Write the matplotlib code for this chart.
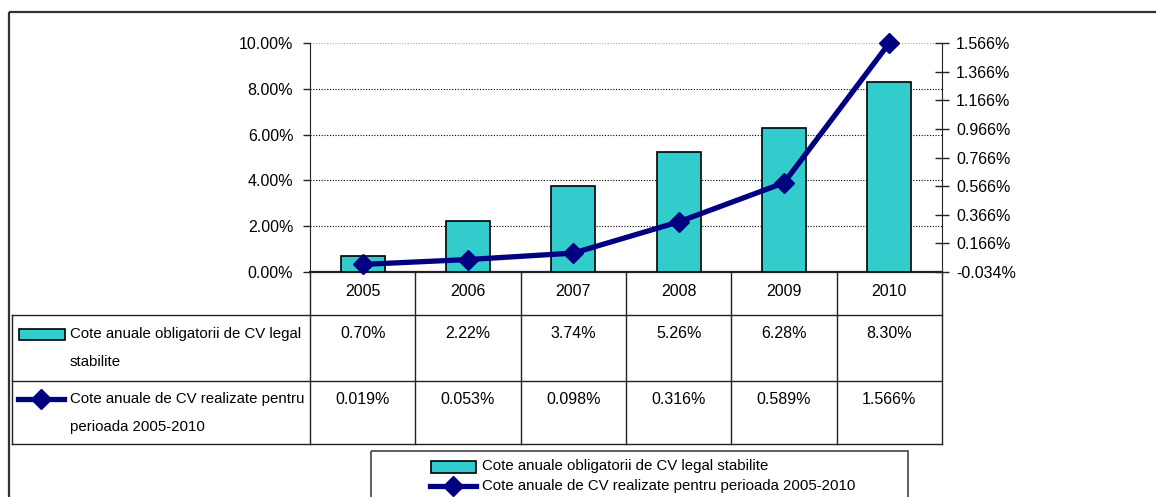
import matplotlib
matplotlib.use("Agg")
import matplotlib.pyplot as plt
import matplotlib.transforms as mtransforms
from matplotlib.patches import Rectangle
from matplotlib.lines import Line2D
import numpy as np

# data (percent)
years = ["2005", "2006", "2007", "2008", "2009", "2010"]
cote_obligatorii = [0.70, 2.22, 3.74, 5.26, 6.28, 8.30]
cote_realizate = [0.019, 0.053, 0.098, 0.316, 0.589, 1.566]
label_oblig = "Cote anuale obligatorii de CV legal stabilite"
label_realiz = "Cote anuale de CV realizate pentru perioada 2005-2010"
row_label_oblig = ["Cote anuale obligatorii de CV legal", "stabilite"]
row_label_realiz = ["Cote anuale de CV realizate pentru", "perioada 2005-2010"]
left_ticks = [0, 2, 4, 6, 8, 10]
right_ticks = [-0.034, 0.166, 0.366, 0.566, 0.766, 0.966, 1.166, 1.366, 1.566]

FONT = ["Liberation Sans Narrow", "Liberation Sans", "DejaVu Sans"]
plt.rcParams["font.family"] = FONT
FS = 11.5
FS_LBL = 10.8
BAR_COLOR = "#33CCCC"
LINE_COLOR = "#000080"
EDGE = "#222222"

W, H = 1156, 497
fig = plt.figure(figsize=(W / 100, H / 100), dpi=100)

# overlay in pixel coordinates for table / frame / legend
pix = fig.add_axes([0, 0, 1, 1], zorder=0)
pix.set_xlim(0, W)
pix.set_ylim(H, 0)
pix.axis("off")

# plot area
ax = fig.add_axes([310 / W, 1 - 272 / H, 632 / W, 229 / H], zorder=2)
ax.patch.set_alpha(0)
x = np.arange(len(years))
ax.bar(x, cote_obligatorii, width=0.42, color=BAR_COLOR, edgecolor="black",
       linewidth=1.2, zorder=3)
ax.set_xlim(-0.5, len(years) - 0.5)
ax.set_ylim(0, 10)
ax.set_yticks(left_ticks)
ax.set_yticklabels([f"{v:.2f}%" for v in left_ticks], fontsize=FS)
ax.set_xticks([])
for v in left_ticks[1:]:
    c = "#aaaaaa" if v == left_ticks[-1] else "black"
    ax.axhline(v, color=c, linestyle=(0, (1, 1.5)), linewidth=0.8, zorder=1)
ax.spines["top"].set_visible(False)
ax.spines["right"].set_visible(False)
ax.spines["left"].set_color(EDGE)
ax.spines["bottom"].set_color(EDGE)
ax.spines["bottom"].set_linewidth(1.6)
ax.tick_params(axis="y", direction="out", length=5, width=1, color=EDGE, pad=7)

ax2 = ax.twinx()
ax2.set_ylim(-0.034, 1.566)
ax2.set_yticks(right_ticks)
ax2.set_yticklabels([f"{v:.3f}%" for v in right_ticks], fontsize=FS)
ax2.tick_params(axis="y", direction="inout", length=10, width=1, color=EDGE, pad=5)
ax2.spines["top"].set_visible(False)
ax2.spines["left"].set_visible(False)
ax2.spines["bottom"].set_visible(False)
ax2.spines["right"].set_color(EDGE)
ax2.plot(x, cote_realizate, color=LINE_COLOR, linewidth=3.8, marker="D",
         markersize=10, zorder=4, clip_on=False)

# data table under the plot: x from category scale, y in pixels
tx = mtransforms.blended_transform_factory(ax.transData, pix.transData)
y_top, y_h1, y_h2, y_bot = 272, 315, 381, 444
tbl_left = 12
bounds = np.arange(len(years) + 1) - 0.5
for b in bounds:
    pix.add_line(Line2D([b, b], [y_top, y_bot], transform=tx, color=EDGE, lw=1))
x_right = ax.transData.transform((bounds[-1], 0))[0]
for yy in (y_h1, y_h2, y_bot):
    pix.plot([tbl_left, x_right], [yy, yy], color=EDGE, lw=1)
pix.plot([tbl_left, tbl_left], [y_h1, y_bot], color=EDGE, lw=1)

for i, yr in enumerate(years):
    pix.text(i, 292, yr, transform=tx, ha="center", va="center", fontsize=FS)
    pix.text(i, 334, f"{cote_obligatorii[i]:.2f}%", transform=tx, ha="center",
             va="center", fontsize=FS)
    pix.text(i, 399, f"{cote_realizate[i]:.3f}%", transform=tx, ha="center",
             va="center", fontsize=FS)

# row labels with legend keys
pix.add_patch(Rectangle((19, 329), 46, 11, facecolor=BAR_COLOR, edgecolor="black", lw=1.2))
pix.plot([18, 64], [399, 399], color=LINE_COLOR, lw=3.8)
pix.plot([41], [399], color=LINE_COLOR, marker="D", markersize=10)
pix.text(70, 334, row_label_oblig[0], ha="left", va="center", fontsize=FS_LBL)
pix.text(70, 362, row_label_oblig[1], ha="left", va="center", fontsize=FS_LBL)
pix.text(70, 399, row_label_realiz[0], ha="left", va="center", fontsize=FS_LBL)
pix.text(70, 427, row_label_realiz[1], ha="left", va="center", fontsize=FS_LBL)

# legend box at bottom
pix.add_patch(Rectangle((371, 451), 537, 80, facecolor="none", edgecolor="#444444",
                        lw=1.2, clip_on=False))
pix.add_patch(Rectangle((431, 461), 45, 12, facecolor=BAR_COLOR, edgecolor="black", lw=1.2))
pix.text(482, 466, label_oblig, ha="left", va="center", fontsize=FS_LBL)
pix.plot([430, 476], [486, 486], color=LINE_COLOR, lw=3.8)
pix.plot([453], [486], color=LINE_COLOR, marker="D", markersize=10)
pix.text(482, 486, label_realiz, ha="left", va="center", fontsize=FS_LBL)

# outer chart frame
pix.add_patch(Rectangle((8.5, 12), 1200, 600, facecolor="none", edgecolor="#333333",
                        lw=1.6, clip_on=False))

fig.savefig("out.png", dpi=100)
